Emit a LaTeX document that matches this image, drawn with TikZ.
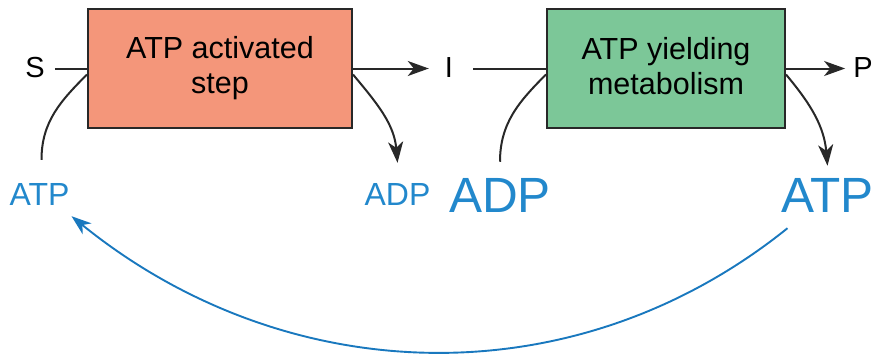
\documentclass[tikz,border=0pt]{standalone}
\usepackage{fontspec}
\setmainfont{Liberation Sans}
\usetikzlibrary{arrows.meta}
\definecolor{boxred}{RGB}{244,150,122}
\definecolor{boxgreen}{RGB}{124,199,152}
\definecolor{atpblue}{RGB}{34,136,204}
\definecolor{arcblue}{RGB}{25,120,190}
\definecolor{edgegray}{RGB}{40,40,40}
\begin{document}
\begin{tikzpicture}[x=1pt,y=1pt,
 stepbox/.style={draw=edgegray,line width=2pt,inner sep=0pt,align=center,font=\fontsize{30.5}{35}\selectfont},
 mol/.style={inner sep=0pt,anchor=base,font=\fontsize{29}{34}\selectfont},
 cof/.style={inner sep=0pt,anchor=base,text=atpblue,font=\fontsize{32}{38}\selectfont},
 bigcof/.style={inner sep=0pt,anchor=base,text=atpblue,font=\fontsize{49.5}{58}\selectfont},
 flow/.style={draw=edgegray,line width=2pt},
 tipped/.style={-{Stealth[length=21pt,width=15pt,inset=6pt]}}
]
\useasboundingbox (0,0) rectangle (883,-359);
\node[stepbox,fill=boxred,minimum width=264pt,minimum height=119pt] (b1) at (220,-68.5) {\raisebox{0pt}[\height][\depth]{}ATP activated\\step\rule[-5pt]{0pt}{5pt}};
\node[stepbox,fill=boxgreen,minimum width=238pt,minimum height=119pt] (b2) at (666,-68.5) {ATP yielding\\metabolism\rule[-5pt]{0pt}{5pt}};
\node[mol] (S) at (35,-77) {S};
\node[mol] (I) at (449,-77) {I};
\node[mol] (P) at (863,-77) {P};
\node[cof] (atp1) at (39.5,-205) {ATP};
\node[cof] (adp1) at (397.5,-205) {ADP};
\node[bigcof] (adp2) at (500,-212) {ADP};
\node[bigcof] (atp2) at (827.5,-212) {ATP};
% main flow
\draw[flow,shorten <=10pt] (S.east |- b1.west) -- (b1.west);
\draw[flow,tipped,shorten >=16pt] (b1.east) -- (I.west |- b1.east);
\draw[flow,shorten <=20pt] (I.east |- b2.west) -- (b2.west);
\draw[flow,tipped,shorten >=8pt] (b2.east) -- (P.west |- b2.east);
% cofactor arcs
\draw[flow] ([xshift=2pt,yshift=23pt]atp1.north) to[out=90,in=-135] ([yshift=-6pt]b1.west);
\draw[flow,tipped] ([yshift=-6pt]b1.east) to[out=-50,in=95] ([yshift=20pt]adp1.north);
\draw[flow] ([yshift=16pt]adp2.north) to[out=90,in=-135] ([yshift=-6pt]b2.west);
\draw[flow,tipped] ([yshift=-6pt]b2.east) to[out=-50,in=95] ([yshift=12pt]atp2.north);
% recycling arc
\draw[arcblue,line width=1.9pt,-{Stealth[length=20pt,width=14pt,inset=6pt]}] ([xshift=-40pt,yshift=-16pt]atp2.south) .. controls (574,-400) and (286,-390) .. ([xshift=32pt,yshift=-11pt]atp1.south);
\end{tikzpicture}
\end{document}
